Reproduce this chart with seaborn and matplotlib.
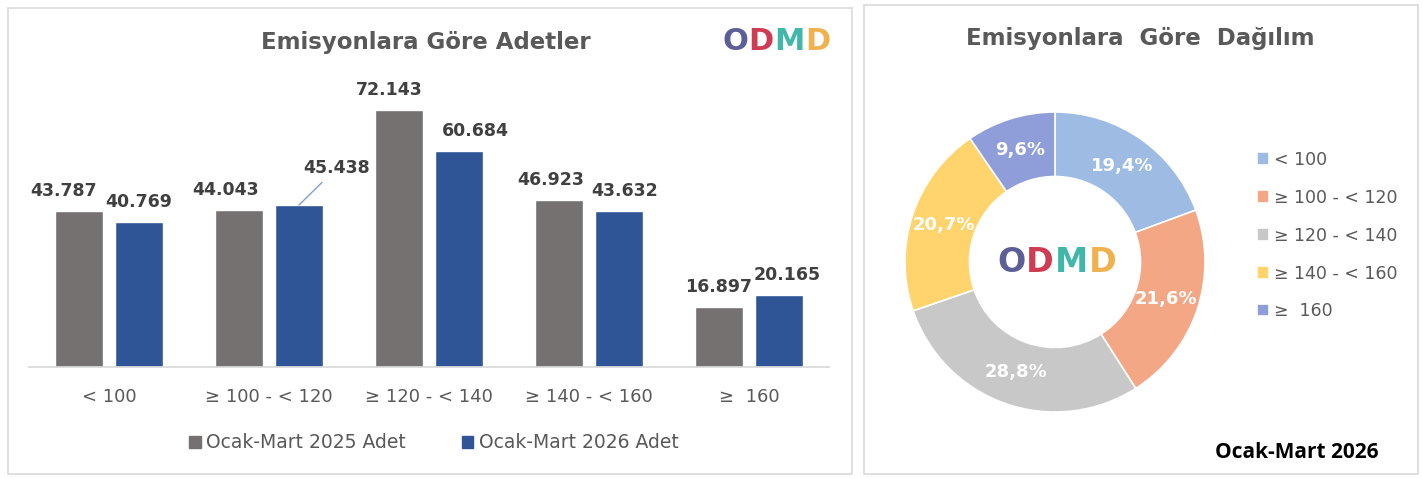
import seaborn as sns
import matplotlib.pyplot as plt
from matplotlib.patches import Rectangle, Patch
import numpy as np
import pandas as pd

### data
kategoriler = ['< 100', '≥ 100 - < 120', '≥ 120 - < 140', '≥ 140 - < 160', '≥  160']
adet_2025 = [43787, 44043, 72143, 46923, 16897]
adet_2026 = [40769, 45438, 60684, 43632, 20165]
donemler = ['Ocak-Mart 2025 Adet', 'Ocak-Mart 2026 Adet']

pay_2026 = [19.4, 21.6, 28.8, 20.7, 9.6]
pay_etiket = ['19,4%', '21,6%', '28,8%', '20,7%', '9,6%']
pasta_legend = ['< 100', '≥ 100 - < 120', '≥ 120 - < 140', '≥ 140 - < 160', '≥  160']

logo_harfler = ['O', 'D', 'M', 'D']
logo_renkler = ['#4a4d8c', '#c9263f', '#2bb0a0', '#eeaa3c']

W, H = 1423, 479
GRAY_TXT = '#595959'
bar_colors = ['#767171', '#2f5597']
pie_colors = ['#9dbbe3', '#f3a784', '#c8c8c8', '#ffd46c', '#8f9ed8']
# horizontal nudges (points) of the value labels, like the Excel original
nudge_2025 = [-11, -10, -7, -6, 0]
nudge_2026 = [0, 0, 12, 4, 6]

sns.set_theme(style='white')
plt.rcParams['font.family'] = ['DejaVu Sans']

fig = plt.figure(figsize=(W / 100, H / 100), dpi=100)


def fx(px):
    return px / W


def fy(py):
    return 1 - py / H


# panel frames
fig.patches.append(Rectangle((fx(8), fy(474)), fx(844), 466 / H, transform=fig.transFigure,
                             facecolor='white', edgecolor='#d9d9d9', lw=1.2, zorder=-1))
fig.patches.append(Rectangle((fx(864), fy(474)), fx(554), 469 / H, transform=fig.transFigure,
                             facecolor='white', edgecolor='#d9d9d9', lw=1.2, zorder=-1))


def logo(x_left, cy, size):
    # letters placed side by side, each starting where the previous one ends
    renderer = fig.canvas.get_renderer()
    x = fx(x_left)
    for harf, renk in zip(logo_harfler, logo_renkler):
        t = fig.text(x, fy(cy), harf, color=renk, fontsize=size, fontweight='bold',
                     ha='left', va='center', alpha=0.9)
        bb = t.get_window_extent(renderer)
        x = bb.x1 / W + 0.0005


###~~~~~~~~~~~~~~~~~~~~~~~~~~~~~~~~~~~~~~~~~~~~~~~~~~~~~~~~~~~~~~~~~~~~~~~~~~~~
# left panel: bar chart
df = pd.DataFrame({
    'kategori': kategoriler * 2,
    'adet': adet_2025 + adet_2026,
    'donem': [donemler[0]] * 5 + [donemler[1]] * 5,
})

ax = fig.add_axes([fx(29), fy(367), fx(800), 287 / H])
ax.patch.set_alpha(0)
sns.barplot(data=df, x='kategori', y='adet', hue='donem', palette=bar_colors,
            width=0.75, gap=0.2, saturation=1, ax=ax, legend=False)
ax.set_ylim(0, 80500)
ax.set_xlim(-0.5, 4.5)
ax.set_xlabel('')
ax.set_ylabel('')
ax.set_yticks([])
for s in ['top', 'left', 'right']:
    ax.spines[s].set_visible(False)
ax.spines['bottom'].set_color('#d9d9d9')
ax.tick_params(axis='x', length=0, pad=15, labelsize=13, labelcolor=GRAY_TXT)

for cont, vals, nudges in zip(ax.containers, [adet_2025, adet_2026], [nudge_2025, nudge_2026]):
    for bar, v, dx in zip(cont, vals, nudges):
        lbl = f'{v:,}'.replace(',', '.')
        x = bar.get_x() + bar.get_width() / 2
        y = bar.get_height()
        if v == 45438:
            ax.annotate(lbl, (x, y), xytext=(27, 20), textcoords='offset points',
                        ha='center', va='bottom', fontsize=12.5, fontweight='bold', color='#404040',
                        arrowprops=dict(arrowstyle='-', color='#7f9fcf', lw=1, shrinkA=2, shrinkB=0))
        else:
            ax.annotate(lbl, (x, y), xytext=(dx, 8), textcoords='offset points',
                        ha='center', va='bottom', fontsize=12.5, fontweight='bold', color='#404040')

fig.text(fx(426), fy(42), 'Emisyonlara Göre Adetler', ha='center', va='center',
         fontsize=16.5, fontweight='bold', color=GRAY_TXT)
logo(722, 41, 22)

handles = [Patch(facecolor=c, edgecolor=c) for c in bar_colors]
fig.legend(handles, donemler, loc='center', bbox_to_anchor=(fx(434), fy(443)), ncol=2,
           frameon=False, handlelength=0.6, handleheight=0.6, handletextpad=0.3,
           columnspacing=3.0, prop={'size': 13.5}, labelcolor=GRAY_TXT)

###~~~~~~~~~~~~~~~~~~~~~~~~~~~~~~~~~~~~~~~~~~~~~~~~~~~~~~~~~~~~~~~~~~~~~~~~~~~~
# right panel: donut chart
R = 150
pax = fig.add_axes([fx(1055 - R), fy(262 + R), fx(2 * R), 2 * R / H])
wedges, _ = pax.pie(pay_2026, colors=pie_colors, startangle=90, counterclock=False,
                    radius=1, wedgeprops=dict(width=0.43, edgecolor='white', linewidth=1.2))
pax.set_xlim(-1, 1)
pax.set_ylim(-1, 1)
for w, t in zip(wedges, pay_etiket):
    ang = np.deg2rad((w.theta1 + w.theta2) / 2)
    pax.text(0.78 * np.cos(ang), 0.78 * np.sin(ang), t, ha='center', va='center',
             color='white', fontsize=13, fontweight='bold')

fig.text(fx(1140), fy(38), 'Emisyonlara  Göre  Dağılım', ha='center', va='center',
         fontsize=16.5, fontweight='bold', color=GRAY_TXT)
logo(997, 262, 24)

fig.legend(wedges, pasta_legend, loc='upper left', bbox_to_anchor=(fx(1241), fy(135)),
           frameon=False, handlelength=0.7, handleheight=0.7, handletextpad=0.3,
           labelspacing=1.15, prop={'size': 12.5}, labelcolor=GRAY_TXT)

fig.text(fx(1297), fy(452), 'Ocak-Mart 2026', ha='center', va='center',
         fontsize=15, fontweight='bold', color='black', family=['Open Sans', 'DejaVu Sans'])

fig.savefig('out.png', dpi=100)
